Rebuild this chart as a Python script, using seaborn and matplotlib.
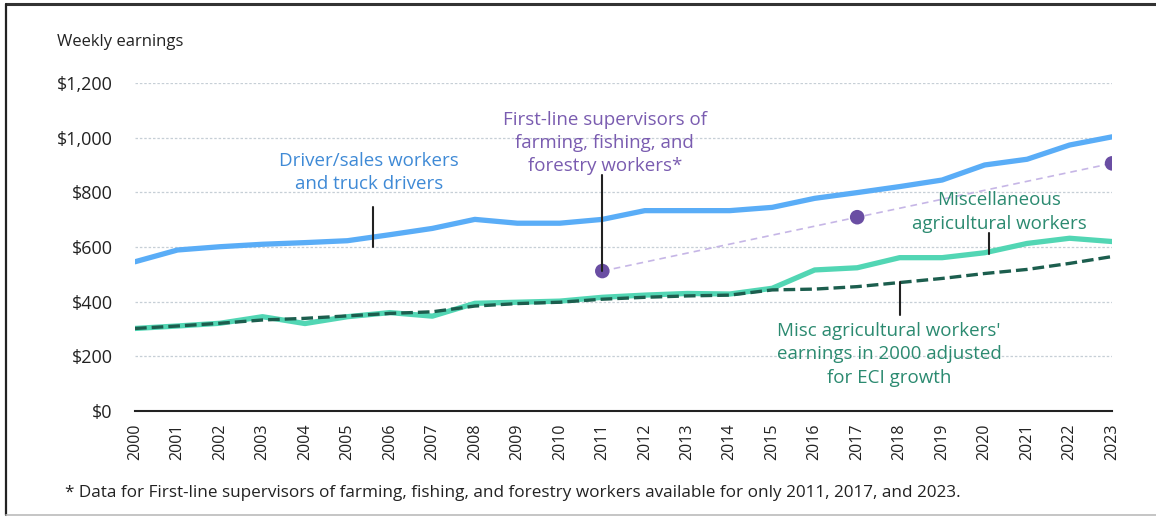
import matplotlib.pyplot as plt
import seaborn as sns
import pandas as pd
from matplotlib.lines import Line2D
from matplotlib.ticker import FuncFormatter

years = list(range(2000, 2024))

driver_sales = [546, 589, 601, 610, 616, 623, 645, 668, 701, 687, 687, 701,
                733, 733, 733, 745, 778, 799, 821, 845, 900, 921, 973, 1003]

misc_ag = [302, 311, 321, 345, 320, 345, 360, 347, 394, 398, 402, 416,
           424, 430, 428, 449, 516, 524, 561, 561, 579, 613, 632, 620]

misc_ag_eci = [302, 311, 321, 333, 339, 348, 357, 363, 384, 393, 398, 409,
               416, 421, 424, 443, 446, 455, 470, 485, 503, 518, 540, 565]

supervisor_years = [2011, 2017, 2023]
supervisor_vals = [512, 709, 906]

footnote = ("* Data for First-line supervisors of farming, fishing, and forestry "
            "workers available for only 2011, 2017, and 2023.")

BLUE = "#5aadf7"
TEAL = "#52d6b4"
DARK_GREEN = "#1c5e4e"
PURPLE = "#6a4ea3"
LAVENDER = "#c6b6e6"
BLUE_TXT = "#3f8ad6"
PURPLE_TXT = "#7a5cb0"
TEAL_TXT = "#2b8a70"

sns.set_style("white")
plt.rcParams["font.family"] = ["Open Sans", "DejaVu Sans"]

df = pd.DataFrame({
    "year": years,
    "driver": driver_sales,
    "misc": misc_ag,
    "eci": misc_ag_eci,
})
sup = pd.DataFrame({"year": supervisor_years, "val": supervisor_vals})

fig = plt.figure(figsize=(11.56, 5.17), dpi=100)
ax = fig.add_axes([0.1168, 0.205, 0.8452, 0.6345])

for v in range(200, 1201, 200):
    ax.axhline(v, color="#c6cfd6", lw=0.9, ls=(0, (2, 1.5)), zorder=0)

sns.lineplot(data=sup, x="year", y="val", ax=ax, color=LAVENDER, lw=1.2,
             linestyle=(0, (4, 3)), zorder=2)
sns.lineplot(data=df, x="year", y="driver", ax=ax, color=BLUE, lw=3.8, zorder=3)
sns.lineplot(data=df, x="year", y="misc", ax=ax, color=TEAL, lw=3.8, zorder=3)
sns.lineplot(data=df, x="year", y="eci", ax=ax, color=DARK_GREEN, lw=2.4,
             linestyle=(0, (3.5, 1.5)), zorder=4)
sns.scatterplot(data=sup, x="year", y="val", ax=ax, color=PURPLE, s=110,
                edgecolor="none", zorder=5)

ax.set_xlim(2000, 2023)
ax.set_ylim(0, 1200)
ax.set_xticks(years)
ax.set_xticklabels([str(y) for y in years], rotation=90, fontsize=11.5)
ax.set_yticks(range(0, 1201, 200))
ax.yaxis.set_major_formatter(FuncFormatter(lambda v, p: f"${v:,.0f}"))
ax.tick_params(axis="y", labelsize=13, length=0, pad=16, colors="#222222")
ax.tick_params(axis="x", length=6, width=1.2, color="#222222", pad=3, colors="#222222")
ax.set_xlabel("")
ax.set_ylabel("")
for s in ["top", "right", "left"]:
    ax.spines[s].set_visible(False)
ax.spines["bottom"].set_color("#222222")
ax.spines["bottom"].set_linewidth(1.5)

# annotations with leader lines
def leader(x, y0, y1):
    ax.plot([x, x], [y0, y1], color="#222222", lw=1.5, zorder=6)

ax.text(2005.5, 873, "Driver/sales workers\nand truck drivers", color=BLUE_TXT,
        ha="center", va="center", fontsize=13.5, linespacing=1.38)
leader(2005.6, 600, 745)

ax.text(2011.06, 981, "First-line supervisors of\nfarming, fishing, and\nforestry workers*",
        color=PURPLE_TXT, ha="center", va="center", fontsize=13.5, linespacing=1.38)
leader(2011.0, 512, 862)

ax.text(2020.34, 728, "Miscellaneous\nagricultural workers", color=TEAL_TXT,
        ha="center", va="center", fontsize=13.5, linespacing=1.38)
leader(2020.1, 575, 651)

ax.text(2017.75, 207, "Misc agricultural workers'\nearnings in 2000 adjusted\nfor ECI growth",
        color=TEAL_TXT, ha="center", va="center", fontsize=13.5, linespacing=1.38)
leader(2018.0, 351, 472)

fig.text(57 / 1156, 1 - 42 / 517, "Weekly earnings", fontsize=12, color="#222222",
         ha="left", va="center")
fig.text(65 / 1156, 1 - 493 / 517, footnote, fontsize=12.3, color="#222222",
         ha="left", va="center")

# frame
fig.add_artist(Line2D([6 / 1156, 1], [1 - 4 / 517, 1 - 4 / 517], color="#333333", lw=2.2,
                      transform=fig.transFigure))
fig.add_artist(Line2D([6 / 1156, 6 / 1156], [1 - 4 / 517, 1 - 515 / 517], color="#222222",
                      lw=1.6, transform=fig.transFigure))
fig.add_artist(Line2D([6 / 1156, 1], [1 - 515 / 517, 1 - 515 / 517], color="#bbbbbb", lw=1.2,
                      transform=fig.transFigure))

fig.savefig("out.png", dpi=100)
plt.close(fig)
